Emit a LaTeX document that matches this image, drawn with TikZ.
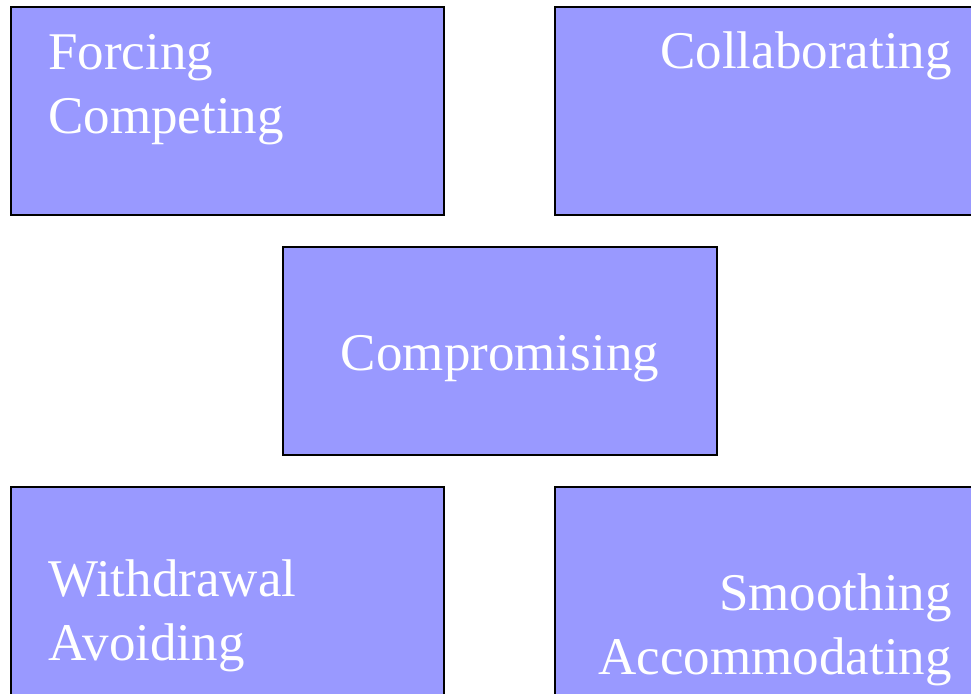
\documentclass[tikz,border=0pt]{standalone}
\usepackage{fontspec}
\setmainfont{Liberation Serif}
\usetikzlibrary{positioning}
\definecolor{boxblue}{RGB}{153,153,255}

\tikzset{
  stylebox/.style={draw=black,line width=2pt,fill=boxblue,minimum width=433pt,minimum height=208pt,inner sep=0pt,outer sep=0pt},
  styletext/.style={text=white,font=\fontsize{53}{64}\selectfont,inner sep=0pt}
}

\begin{document}
\begin{tikzpicture}[x=1pt,y=-1pt]
   \clip (0,0) rectangle (971,693);
   % the five boxes
   \node[stylebox] (forcebox) at (227.5,111) {};
   \node[stylebox] (collabbox) at (771.5,111) {};
   \node[stylebox,minimum width=434pt] (compbox) at (500,351) {};
   \node[stylebox] (withbox) at (227.5,591) {};
   \node[stylebox] (smoothbox) at (771.5,591) {};
   % labels (base anchor sits on the last line)
   \node[styletext,align=left,anchor=base west,xshift=37pt,yshift=-126pt] (force) at (forcebox.north west) {Forcing\\Competing};
   \node[styletext,anchor=base east,xshift=-36pt,yshift=-62pt] (collab) at (collabbox.north east) {Collaborating};
   \node[styletext,anchor=base,yshift=-19pt] (comp) at (compbox.center) {Compromising};
   \node[styletext,align=left,anchor=base west,xshift=37pt,yshift=-173pt] (with) at (withbox.north west) {Withdrawal\\Avoiding};
   \node[styletext,align=right,anchor=base east,xshift=-36pt,yshift=-187pt] (smooth) at (smoothbox.north east) {Smoothing\\Accommodating};
\end{tikzpicture}
\end{document}
